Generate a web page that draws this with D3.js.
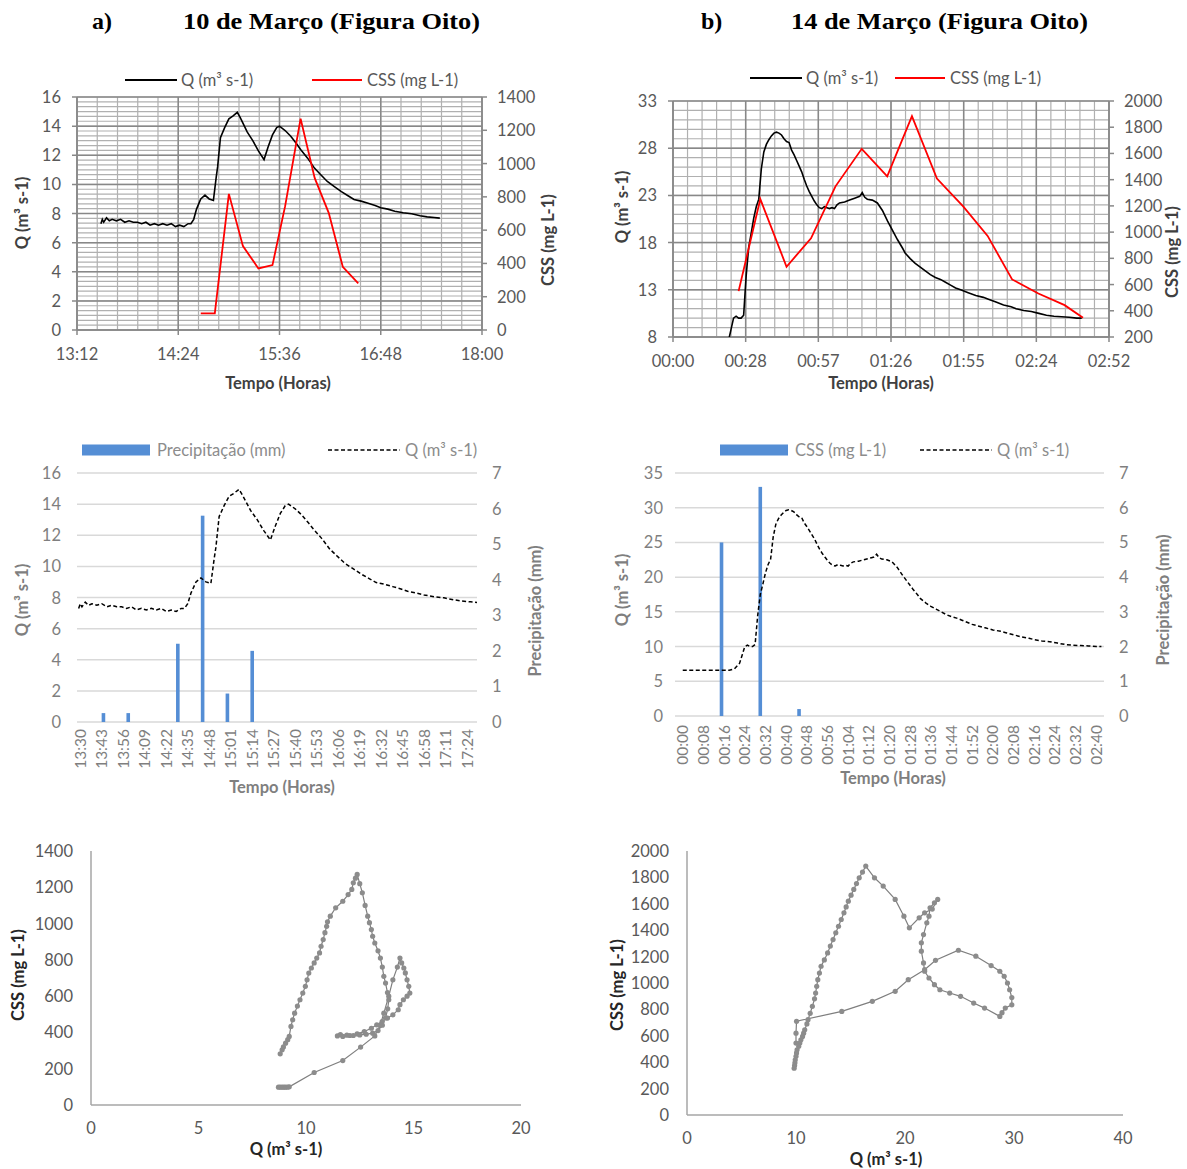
<!DOCTYPE html>
<html><head><meta charset="utf-8">
<script src="https://cdn.jsdelivr.net/npm/d3@7"></script>
<style>
body{margin:0;background:#fff;}
text{font-family:Lato,"Open Sans",sans-serif;}
</style></head><body>
<svg id="c" width="1187" height="1169"></svg>
<script>
// ---------------- DATA ----------------
const panelLetters = ["a)", "b)"];
const panelTitles = ["10 de Março (Figura Oito)", "14 de Março (Figura Oito)"];

// 10 March: discharge Q (m3 s-1)
const q10Time = ["13:29","13:30","13:31","13:33","13:35","13:37","13:40","13:43","13:46","13:49","13:52","13:55","13:58","14:01","14:04","14:07","14:10","14:13","14:16","14:19","14:22","14:25","14:28","14:31","14:33","14:35","14:37","14:40","14:43","14:46","14:49","14:51","14:52","14:54","14:57","15:00","15:03","15:06","15:08","15:10","15:13","15:17","15:21","15:25","15:28","15:31","15:34","15:36","15:40","15:44","15:48","15:51","15:56","16:01","16:05","16:10","16:15","16:20","16:25","16:29","16:34","16:39","16:44","16:48","16:53","16:58","17:04","17:10","17:16","17:21","17:26","17:30"];
const q10Value = [7.3,7.6,7.4,7.7,7.5,7.6,7.5,7.6,7.4,7.5,7.4,7.4,7.3,7.4,7.2,7.3,7.2,7.3,7.2,7.3,7.1,7.2,7.1,7.3,7.3,7.6,8.3,9.0,9.26,9.0,8.9,10.5,11.2,13.2,13.9,14.5,14.7,14.95,14.6,14.2,13.6,13.0,12.3,11.7,12.6,13.4,13.9,14.0,13.7,13.3,12.8,12.4,11.8,11.1,10.7,10.2,9.85,9.5,9.2,8.96,8.85,8.7,8.55,8.4,8.3,8.16,8.05,7.98,7.85,7.77,7.72,7.68];
// 10 March: suspended sediment CSS (mg L-1)
const css10Time = ["14:40","14:50","15:00","15:10","15:21","15:31","15:40","15:51","16:01","16:11","16:21","16:32"];
const css10Value = [100,100,818,504,370,390,744,1270,914,704,380,280];
// 10 March: rainfall (mm)
const rain10Time = ["13:44","13:59","14:29","14:44","14:59","15:14"];
const rain10Value = [0.25,0.25,2.2,5.8,0.8,2.0];
const mid10TickLabels = ["13:30","13:43","13:56","14:09","14:22","14:35","14:48","15:01","15:14","15:27","15:40","15:53","16:06","16:19","16:32","16:45","16:58","17:11","17:24"];

// 14 March: discharge Q (minutes after 00:00)
const q14Minute = [0,5,10,15,18,20,22,23,24,25,26,27,28,29,30,31,32,33,34,35,36,37,38,39,40,41,42,43,44,45,46,47,48,49,50,51,52,53,54,55,56,57,58,59,60,61,62,63,64,65,66,68,70,72,73,74,75,76,77,79,81,83,85,87,89,91,92,94,96,98,100,102,104,106,108,110,112,114,117,120,123,125,128,131,134,136,139,142,145,148,151,154,157,160,162];
const q14Value = [6.6,6.6,6.6,6.6,6.6,6.8,7.6,8.8,10.0,10.2,10.0,10.0,10.3,14.5,17.5,19.0,20.6,21.8,22.6,25.8,27.6,28.4,28.9,29.3,29.6,29.7,29.6,29.4,29.0,28.7,28.6,27.8,27.3,26.7,26.1,25.5,24.7,24.0,23.4,22.9,22.4,22.0,21.7,21.6,21.8,21.7,21.6,21.7,21.6,22.0,22.2,22.3,22.5,22.7,22.8,22.9,23.3,22.8,22.6,22.5,22.2,21.4,20.3,19.3,18.3,17.4,16.9,16.3,15.8,15.4,15.0,14.6,14.3,14.1,13.8,13.5,13.2,13.0,12.7,12.4,12.2,12.0,11.7,11.4,11.2,11.0,10.8,10.7,10.5,10.3,10.2,10.15,10.1,10.0,10.0];
const css14Minute = [26,34.6,45,54.7,64.4,74.8,84.9,94.7,104.6,115,124.7,134.4,144.8,155.2,162.5];
const css14Value = [550,1252,736,953,1349,1635,1425,1885,1408,1196,971,639,532,443,346];
const rain14Minute = [15,30,45];
const rain14Value = [5.0,6.6,0.2];
const mid14TickLabels = ["00:00","00:08","00:16","00:24","00:32","00:40","00:48","00:56","01:04","01:12","01:20","01:28","01:36","01:44","01:52","02:00","02:08","02:16","02:24","02:32","02:40"];

// Hysteresis (Q vs CSS), in time order
const hyst10Q = [8.72,8.8,8.89,8.97,9.05,9.14,9.22,10.38,11.71,12.54,13.2,13.45,13.62,13.85,14.04,14.25,14.37,14.45,14.55,14.62,14.7,14.78,14.83,14.7,14.53,14.37,14.29,14.04,13.79,13.54,13.29,13.04,12.71,12.38,12.04,11.71,11.46,11.6,11.9,12.2,12.5,12.8,13.1,13.35,13.55,13.7,13.8,13.85,13.79,13.7,13.62,13.55,13.46,13.35,13.2,13.1,13.04,12.95,12.87,12.75,12.62,12.5,12.38,12.3,12.2,12.13,11.96,11.71,11.38,11.13,11.0,10.96,10.88,10.8,10.7,10.63,10.5,10.38,10.25,10.13,10.05,9.97,9.85,9.72,9.6,9.47,9.38,9.3,9.22,9.15,9.05,8.95,8.89,8.8];
const hyst10Css = [98,98,98,98,98,98,100,179,245,319,381,440,506,600,690,760,810,783,755,728,690,654,617,600,580,553,525,497,479,460,442,423,405,392,383,378,381,388,385,383,386,390,396,410,440,480,530,580,620,672,709,760,810,850,893,930,967,1005,1041,1100,1170,1220,1271,1250,1225,1188,1160,1123,1087,1041,1010,985,950,912,875,838,810,783,755,727,690,654,617,580,545,506,470,433,378,360,341,320,304,282];
const hyst14Q = [10.0,10.0,10.05,14.2,17.0,19.1,20.3,21.8,22.8,24.9,26.5,27.9,28.7,29.1,29.4,29.6,29.8,29.8,29.2,28.9,28.7,27.3,26.3,25.1,24.1,23.2,22.7,22.2,21.8,21.7,21.5,21.5,21.7,22.0,22.2,22.3,22.7,23.0,22.5,21.8,21.3,20.4,19.9,19.1,18.0,17.2,16.4,
  16.1,15.8,15.55,15.3,15.05,14.8,14.6,14.4,14.15,13.9,13.65,13.4,13.15,12.9,12.6,12.3,12.15,12.0,11.9,11.8,11.7,11.5,11.3,11.1,11.0,10.8,10.7,10.6,10.45,10.35,10.25,10.1,10.05,10.0,9.93,9.9,9.87,9.83];
const hyst14Css = [545,620,710,785,861,937,1025,1101,1172,1248,1203,1132,1089,1051,1000,949,890,835,810,775,747,810,848,899,924,949,987,1038,1089,1152,1241,1304,1367,1456,1506,1570,1608,1633,1560,1532,1494,1418,1506,1633,1734,1797,1886,
  1840,1797,1753,1709,1665,1620,1576,1532,1481,1430,1380,1329,1280,1228,1175,1127,1075,1025,975,924,880,823,770,722,690,646,620,595,570,545,520,494,470,445,418,395,375,354];

// Labels
const qLabel = "Q (m³ s-1)";
const cssLabel = "CSS (mg L-1)";
const rainLabel = "Precipitação (mm)";
const timeLabel = "Tempo (Horas)";

// ---------------- HELPERS ----------------
const svg = d3.select("#c");
const toMin = s => { const p = s.split(":").map(Number); return p[0]*60 + p[1]; };
const fmtHM = m => { const h = Math.floor(m/60 + 1e-9); const mm = Math.floor(m - h*60 + 1e-6); return String(h).padStart(2,"0") + ":" + String(mm).padStart(2,"0"); };
const TICK = "#595959";
const FS = 16.5;   // tick labels
const LS = 16.5;   // legend
const TS = 16.5;   // axis titles
let clipId = 0;

function txt(g, x, y, s, o = {}) {
  const t = g.append("text").attr("x", x).attr("y", y).text(s)
    .attr("font-size", o.size || FS).attr("fill", o.fill || TICK)
    .attr("text-anchor", o.anchor || "start");
  if (o.weight) t.attr("font-weight", o.weight);
  if (o.rotate) t.attr("transform", `rotate(${o.rotate},${x},${y})`);
  if (o.family) t.style("font-family", o.family);
  if (o.len) t.attr("textLength", o.len).attr("lengthAdjust", "spacingAndGlyphs");
  return t;
}

// ---------------- TITLES ----------------
const ttl = svg.append("g");
const serif = "'Liberation Serif','Times New Roman',serif";
txt(ttl, 92, 29, panelLetters[0], {size: 24, weight: "bold", fill: "#000", family: serif});
txt(ttl, 183, 29, panelTitles[0], {size: 24, weight: "bold", fill: "#000", family: serif, len: 297});
txt(ttl, 701, 29, panelLetters[1], {size: 24, weight: "bold", fill: "#000", family: serif});
txt(ttl, 791, 29, panelTitles[1], {size: 24, weight: "bold", fill: "#000", family: serif, len: 297});

// ---------------- TOP PANELS ----------------
function topPanel(o) {
  const g = svg.append("g");
  const xs = d3.scaleLinear(o.xDom, o.xRange);
  const ys = d3.scaleLinear(o.yDom, o.yRange);
  const ys2 = d3.scaleLinear(o.y2Dom, o.yRange);
  const [L, R] = o.xRange, [B, T] = o.yRange;
  o.xMinor.forEach(v => g.append("line").attr("x1", xs(v)).attr("x2", xs(v)).attr("y1", T).attr("y2", B).attr("stroke", "#b0b0b0").attr("stroke-width", 1.2));
  o.yMinor.forEach(v => g.append("line").attr("x1", L).attr("x2", R).attr("y1", ys(v)).attr("y2", ys(v)).attr("stroke", "#b0b0b0").attr("stroke-width", 1.2));
  o.xMajor.forEach(v => g.append("line").attr("x1", xs(v)).attr("x2", xs(v)).attr("y1", T).attr("y2", B + 5).attr("stroke", "#888").attr("stroke-width", 1.5));
  o.yMajor.forEach(v => g.append("line").attr("x1", L - 5).attr("x2", R).attr("y1", ys(v)).attr("y2", ys(v)).attr("stroke", "#888").attr("stroke-width", 1.5));
  o.y2Ticks.forEach(v => g.append("line").attr("x1", R).attr("x2", R + 5).attr("y1", ys2(v)).attr("y2", ys2(v)).attr("stroke", "#888").attr("stroke-width", 1.5));
  g.append("line").attr("x1", L).attr("x2", L).attr("y1", T).attr("y2", B).attr("stroke", "#888").attr("stroke-width", 1.5);
  g.append("line").attr("x1", R).attr("x2", R).attr("y1", T).attr("y2", B).attr("stroke", "#888").attr("stroke-width", 1.5);
  g.append("line").attr("x1", L).attr("x2", R).attr("y1", B).attr("y2", B).attr("stroke", "#888").attr("stroke-width", 1.5);
  o.yMajor.forEach(v => txt(g, L - 16, ys(v) + 6, String(v), {anchor: "end"}));
  o.y2Ticks.forEach(v => txt(g, R + 15, ys2(v) + 6, String(v)));
  o.xMajor.forEach(v => txt(g, xs(v), B + 30, fmtHM(v), {anchor: "middle"}));
  const id = "clip" + (clipId++);
  g.append("clipPath").attr("id", id).append("rect").attr("x", L).attr("y", T).attr("width", R - L).attr("height", B - T);
  const lq = d3.line().x(d => xs(d[0])).y(d => ys(d[1]));
  const lc = d3.line().x(d => xs(d[0])).y(d => ys2(d[1]));
  g.append("path").datum(o.q).attr("d", lq).attr("fill", "none").attr("stroke", "#000").attr("stroke-width", 1.6).attr("clip-path", `url(#${id})`);
  g.append("path").datum(o.css).attr("d", lc).attr("fill", "none").attr("stroke", "#ff0000").attr("stroke-width", 1.8).attr("clip-path", `url(#${id})`);
  txt(g, o.qTitle[0], o.qTitle[1], qLabel, {anchor: "middle", rotate: -90, weight: "bold", size: TS, fill: "#404040"});
  txt(g, o.cssTitle[0], o.cssTitle[1], cssLabel, {anchor: "middle", rotate: -90, weight: "bold", size: TS, fill: "#404040"});
  txt(g, o.tTitle[0], o.tTitle[1], timeLabel, {anchor: "middle", weight: "bold", size: TS, fill: "#404040"});
  const ly = o.legY;
  g.append("line").attr("x1", o.leg[0]).attr("x2", o.leg[0] + 52).attr("y1", ly).attr("y2", ly).attr("stroke", "#000").attr("stroke-width", 1.8);
  txt(g, o.leg[0] + 56, ly + 6, qLabel, {size: LS});
  g.append("line").attr("x1", o.leg[1]).attr("x2", o.leg[1] + 50).attr("y1", ly).attr("y2", ly).attr("stroke", "#ff0000").attr("stroke-width", 1.8);
  txt(g, o.leg[1] + 55, ly + 6, cssLabel, {size: LS});
}

topPanel({
  xDom: [792, 1080], xRange: [77, 482], yDom: [0, 16], yRange: [330, 97], y2Dom: [0, 1400],
  xMajor: d3.range(0, 5).map(i => 792 + 72 * i), xMinor: d3.range(0, 21).map(i => 792 + 14.4 * i),
  yMajor: d3.range(0, 17, 2), yMinor: d3.range(0, 49).map(i => i / 3), y2Ticks: d3.range(0, 1401, 200),
  q: q10Time.map((t, i) => [toMin(t), q10Value[i]]),
  css: css10Time.map((t, i) => [toMin(t), css10Value[i]]),
  qTitle: [28, 213], cssTitle: [554, 240], tTitle: [278, 389], legY: 80, leg: [125, 312]
});
topPanel({
  xDom: [0, 172.8], xRange: [673, 1109], yDom: [8, 33], yRange: [337, 101], y2Dom: [200, 2000],
  xMajor: d3.range(0, 7).map(i => 28.8 * i), xMinor: d3.range(0, 31).map(i => 5.76 * i),
  yMajor: d3.range(8, 34, 5), yMinor: d3.range(8, 34, 1), y2Ticks: d3.range(200, 2001, 200),
  q: q14Minute.map((t, i) => [t, q14Value[i]]),
  css: css14Minute.map((t, i) => [t, css14Value[i]]),
  qTitle: [628, 207], cssTitle: [1178, 252], tTitle: [881, 389], legY: 78, leg: [750, 895]
});

// ---------------- MIDDLE PANELS ----------------
function midPanel(o) {
  const g = svg.append("g");
  const xs = d3.scaleLinear(o.xDom, o.xRange);
  const ys = d3.scaleLinear(o.yDom, o.yRange);
  const ys2 = d3.scaleLinear([0, 7], o.yRange);
  const [L, R] = o.xRange, [B, T] = o.yRange;
  o.yTicks.forEach(v => g.append("line").attr("x1", L).attr("x2", R).attr("y1", ys(v)).attr("y2", ys(v)).attr("stroke", "#d9d9d9").attr("stroke-width", 1.5));
  o.yTicks.forEach(v => txt(g, o.leftLabX, ys(v) + 6, String(v), {anchor: "end", fill: "#7f7f7f"}));
  d3.range(0, 8).forEach(v => txt(g, o.rightLabX, ys2(v) + 6, String(v), {fill: "#7f7f7f"}));
  o.tickLabels.forEach(s => txt(g, xs(o.toX(s)) + 5.5, o.labY, s, {anchor: "end", rotate: -90, fill: "#7f7f7f", size: 15.5}));
  g.selectAll("rect.bar").data(o.rain).enter().append("rect")
    .attr("x", d => xs(d[0]) - 1.8).attr("width", 3.6)
    .attr("y", d => ys2(d[1])).attr("height", d => B - ys2(d[1]))
    .attr("fill", "#558ed5");
  g.append("path").datum(o.q).attr("d", d3.line().x(d => xs(d[0])).y(d => ys(d[1])))
    .attr("fill", "none").attr("stroke", "#000").attr("stroke-width", 1.5).attr("stroke-dasharray", "4,2.5");
  txt(g, o.qTitle[0], o.qTitle[1], qLabel, {anchor: "middle", rotate: -90, weight: "bold", size: TS, fill: "#7f7f7f"});
  txt(g, o.rTitle[0], o.rTitle[1], rainLabel, {anchor: "middle", rotate: -90, weight: "bold", size: TS, fill: "#7f7f7f"});
  txt(g, o.tTitle[0], o.tTitle[1], timeLabel, {anchor: "middle", weight: "bold", size: TS, fill: "#7f7f7f"});
  const ly = 450;
  g.append("rect").attr("x", o.leg[0]).attr("y", ly - 5.5).attr("width", 68).attr("height", 11).attr("fill", "#558ed5");
  txt(g, o.leg[0] + 75, ly + 6, o.barLegend, {size: LS, fill: "#8c8c8c"});
  g.append("line").attr("x1", o.leg[1]).attr("x2", o.leg[1] + 72).attr("y1", ly).attr("y2", ly).attr("stroke", "#000").attr("stroke-width", 1.5).attr("stroke-dasharray", "4,2.5");
  txt(g, o.leg[1] + 77, ly + 6, qLabel, {size: LS, fill: "#8c8c8c"});
}

midPanel({
  xDom: [808, 1050], xRange: [77, 477], yDom: [0, 16], yRange: [722, 473], yTicks: d3.range(0, 17, 2),
  leftLabX: 61, rightLabX: 492, labY: 729, tickLabels: mid10TickLabels, toX: toMin,
  rain: rain10Time.map((t, i) => [toMin(t), rain10Value[i]]),
  q: q10Time.map((t, i) => [toMin(t), q10Value[i]]),
  qTitle: [28, 600], rTitle: [541, 611], tTitle: [282, 793], leg: [82, 328], barLegend: rainLabel
});
midPanel({
  xDom: [-3, 163], xRange: [675, 1104], yDom: [0, 35], yRange: [716, 473], yTicks: d3.range(0, 36, 5),
  leftLabX: 663, rightLabX: 1119, labY: 725, tickLabels: mid14TickLabels, toX: toMin,
  rain: rain14Minute.map((t, i) => [t, rain14Value[i]]),
  q: q14Minute.map((t, i) => [t, q14Value[i]]),
  qTitle: [628, 590], rTitle: [1169, 600], tTitle: [893, 784], leg: [720, 920], barLegend: cssLabel
});

// ---------------- BOTTOM PANELS ----------------
function botPanel(o) {
  const g = svg.append("g");
  const xs = d3.scaleLinear(o.xDom, o.xRange);
  const ys = d3.scaleLinear(o.yDom, o.yRange);
  const [L, R] = o.xRange, [B, T] = o.yRange;
  g.append("line").attr("x1", L).attr("x2", L).attr("y1", T).attr("y2", B).attr("stroke", "#a6a6a6").attr("stroke-width", 1.5);
  g.append("line").attr("x1", L).attr("x2", R).attr("y1", B).attr("y2", B).attr("stroke", "#a6a6a6").attr("stroke-width", 1.5);
  o.yTicks.forEach(v => txt(g, L - 18, ys(v) + 6, String(v), {anchor: "end"}));
  o.xTicks.forEach(v => txt(g, xs(v), B + 29, String(v), {anchor: "middle"}));
  const pts = o.q.map((q, i) => [q, o.css[i]]);
  g.append("path").datum(pts).attr("d", d3.line().x(d => xs(d[0])).y(d => ys(d[1])))
    .attr("fill", "none").attr("stroke", "#7f7f7f").attr("stroke-width", 1.2);
  g.selectAll("circle").data(pts).enter().append("circle")
    .attr("cx", d => xs(d[0])).attr("cy", d => ys(d[1])).attr("r", 2.6).attr("fill", "#8c8c8c");
  txt(g, o.cTitle[0], o.cTitle[1], cssLabel, {anchor: "middle", rotate: -90, weight: "bold", size: TS, fill: "#262626"});
  txt(g, o.qTitle[0], o.qTitle[1], qLabel, {anchor: "middle", weight: "bold", size: TS, fill: "#262626"});
}

botPanel({
  xDom: [0, 20], xRange: [91, 521], yDom: [0, 1400], yRange: [1105, 851],
  xTicks: d3.range(0, 21, 5), yTicks: d3.range(0, 1401, 200), q: hyst10Q, css: hyst10Css,
  cTitle: [24, 975], qTitle: [286, 1155]
});
botPanel({
  xDom: [0, 40], xRange: [687, 1123], yDom: [0, 2000], yRange: [1115, 851],
  xTicks: d3.range(0, 41, 10), yTicks: d3.range(0, 2001, 200), q: hyst14Q, css: hyst14Css,
  cTitle: [623, 985], qTitle: [886, 1165]
});
</script></body></html>
